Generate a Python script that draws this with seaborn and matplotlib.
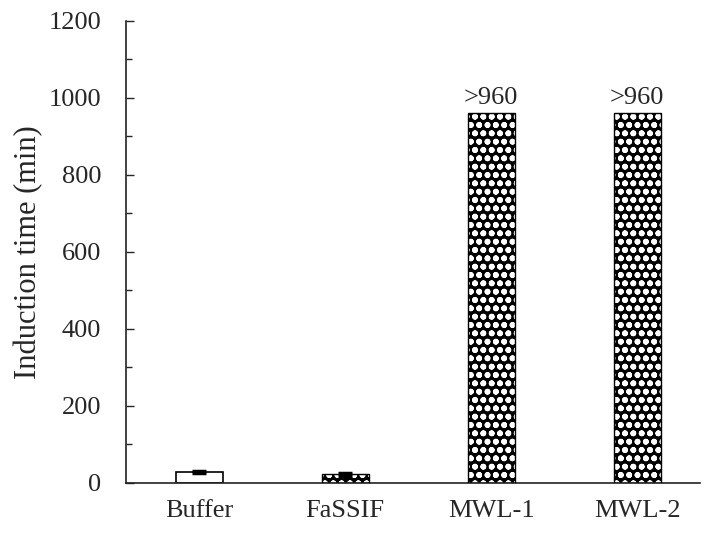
import pandas as pd
import seaborn as sns
import matplotlib.pyplot as plt
from matplotlib.ticker import MultipleLocator

# values
groups = ["Buffer", "FaSSIF", "MWL-1", "MWL-2"]
induction = [29, 22, 960, 960]
errors = [2, 3, 0, 0]
labels = ["", "", ">960", ">960"]
hatched = [False, True, True, True]

df = pd.DataFrame({"group": groups, "time": induction})

sns.set_style("ticks")
plt.rcParams["font.family"] = ["Liberation Serif", "DejaVu Serif"]
plt.rcParams["hatch.linewidth"] = 1.8

fig = plt.figure(figsize=(7.05, 5.5), dpi=100)
ax = fig.add_axes([0.179, 0.122, 0.814, 0.84])

# base layer: black fill with white circle hatch for the patterned bars
sns.barplot(data=df, x="group", y="time", ax=ax, width=0.32,
            color="white", saturation=1, errorbar=None)
for patch, h in zip(ax.patches, hatched):
    if h:
        patch.set_facecolor("black")
        patch.set_edgecolor("white")
        patch.set_hatch("oo")
        patch.set_linewidth(0)
    else:
        patch.set_facecolor("white")
        patch.set_edgecolor("black")
        patch.set_linewidth(1.2)

# outline on top of the patterned bars
for patch, h in zip(list(ax.patches), hatched):
    if h:
        ax.add_patch(plt.Rectangle(patch.get_xy(), patch.get_width(), patch.get_height(),
                                   fill=False, edgecolor="black", linewidth=1.0, zorder=3))

xs = range(len(groups))
ax.errorbar([x for x, e in zip(xs, errors) if e], [v for v, e in zip(induction, errors) if e],
            yerr=[e for e in errors if e], fmt="none", ecolor="black",
            elinewidth=1.0, capsize=5, capthick=2.5, zorder=4)

for x, v, t in zip(xs, induction, labels):
    if t:
        ax.text(x, v + 10, t, ha="center", va="bottom", fontsize=19)

ax.set_ylim(0, 1200)
ax.set_xlim(-0.5, 3.43)
ax.yaxis.set_major_locator(MultipleLocator(200))
ax.yaxis.set_minor_locator(MultipleLocator(100))
ax.tick_params(axis="y", which="major", direction="in", length=6, width=1, labelsize=19, pad=18)
ax.tick_params(axis="y", which="minor", direction="in", length=4, width=1)
ax.tick_params(axis="x", length=0, labelsize=19, pad=12)
ax.set_xlabel("")
ax.set_ylabel("Induction time (min)", fontsize=22, labelpad=4)
for s in ["top", "right"]:
    ax.spines[s].set_visible(False)
for s in ["left", "bottom"]:
    ax.spines[s].set_linewidth(1.2)
    ax.spines[s].set_color("#222222")

fig.savefig("out.png", dpi=100)
